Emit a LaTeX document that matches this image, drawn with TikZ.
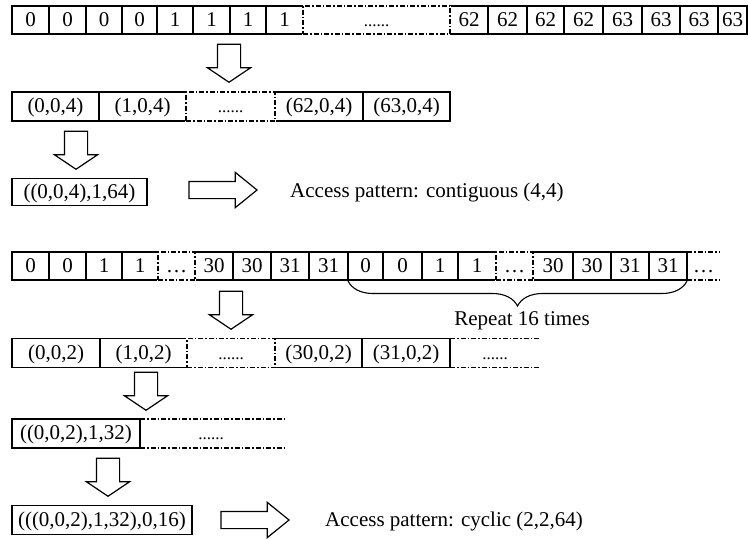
\documentclass[tikz,border=0pt]{standalone}
\usepackage{fontspec}
\setmainfont{Liberation Serif}
\usetikzlibrary{shapes.arrows}
\usetikzlibrary{decorations.pathreplacing}
\pgfdeclarelayer{edgelayer}
\pgfdeclarelayer{nodelayer}
\pgfsetlayers{edgelayer,nodelayer,main}
\tikzstyle{cell}=[rectangle,draw=black,line width=1.1pt,inner sep=0pt,minimum width=37pt,minimum height=28pt,text height=15pt,text depth=3pt,font=\fontsize{21}{25}\selectfont]
\tikzstyle{tuple}=[cell,minimum width=87pt,minimum height=29pt]
\tikzstyle{gapcell}=[cell,fill=white,line width=1.3pt,dash pattern=on 5pt off 2pt on 1.5pt off 2pt,preaction={draw=white,solid,line width=2.8pt}]
\tikzstyle{dots}=[inner sep=0pt,text height=15pt,text depth=3pt,font=\fontsize{17}{20}\selectfont]
\tikzstyle{note}=[inner sep=0pt,anchor=west,text height=15pt,text depth=3pt,font=\fontsize{21}{25}\selectfont]
\tikzstyle{darrow}=[single arrow,draw=black,line width=1.2pt,rotate=-90,anchor=tip,inner xsep=0pt,inner ysep=11pt,single arrow head extend=10pt,single arrow tip angle=112,minimum height=38pt]
\tikzstyle{rarrow}=[single arrow,draw=black,line width=1.2pt,anchor=tip,inner xsep=0pt,inner ysep=8pt,single arrow head extend=9pt,single arrow tip angle=78,minimum height=68pt]
\tikzstyle{openedge}=[-,draw=black,line width=1.3pt,dash pattern=on 5pt off 2pt on 1.5pt off 2pt]
\tikzstyle{repeatbrace}=[-,draw=black,line width=1.1pt,decorate,decoration={brace,mirror,amplitude=25pt}]

\begin{document}
\begin{tikzpicture}[x=1pt,y=-1pt]
	\useasboundingbox (0,0) rectangle (748,539);
	\begin{pgfonlayer}{nodelayer}
		\node [style=cell] (0) at (30.5, 20) {0};
		\node [style=cell] (1) at (67.5, 20) {0};
		\node [style=cell, minimum width=36] (2) at (104, 20) {0};
		\node [style=cell, minimum width=35] (3) at (139.5, 20) {0};
		\node [style=cell, minimum width=36] (4) at (175, 20) {1};
		\node [style=cell] (5) at (211.5, 20) {1};
		\node [style=cell, minimum width=36] (6) at (248, 20) {1};
		\node [style=cell] (7) at (284.5, 20) {1};
		\node [style=cell, minimum width=38] (9) at (469, 20) {62};
		\node [style=cell, minimum width=39] (10) at (507.5, 20) {62};
		\node [style=cell] (11) at (545.5, 20) {62};
		\node [style=cell, minimum width=39] (12) at (583.5, 20) {62};
		\node [style=cell, minimum width=39] (13) at (622.5, 20) {63};
		\node [style=cell, minimum width=38] (14) at (661, 20) {63};
		\node [style=cell, minimum width=38] (15) at (699, 20) {63};
		\node [style=cell, minimum width=29] (16) at (732.5, 20) {63};
		\node [style=darrow] (17) at (229, 83) {};
		\node [style=tuple] (18) at (55.5, 106.5) {(0,0,4)};
		\node [style=tuple] (19) at (142.5, 106.5) {(1,0,4)};
		\node [style=tuple, minimum width=88] (21) at (319, 106.5) {(62,0,4)};
		\node [style=tuple] (22) at (406.5, 106.5) {(63,0,4)};
		\node [style=darrow] (23) at (76, 170) {};
		\node [style=cell, minimum width=135, minimum height=27] (24) at (79.5, 192) {((0,0,4),1,64)};
		\node [style=rarrow] (25) at (258, 190) {};
		\node [style=note] (26) at (290, 191) {Access pattern: contiguous (4,4)};
		\node [style=cell] (27) at (30.5, 266) {0};
		\node [style=cell] (28) at (67.5, 266) {0};
		\node [style=cell, minimum width=36] (29) at (104, 266) {1};
		\node [style=cell, minimum width=36] (30) at (140, 266) {1};
		\node [style=cell, minimum width=38] (32) at (214, 266) {30};
		\node [style=cell, minimum width=38] (33) at (252, 266) {30};
		\node [style=cell, minimum width=38] (34) at (290, 266) {31};
		\node [style=cell, minimum width=39] (35) at (328.5, 266) {31};
		\node [style=cell, minimum width=35] (36) at (365.5, 266) {0};
		\node [style=cell, minimum width=39] (37) at (402.5, 266) {0};
		\node [style=cell, minimum width=36] (38) at (440, 266) {1};
		\node [style=cell, minimum width=38] (39) at (477, 266) {1};
		\node [style=cell, minimum width=40] (41) at (553, 266) {30};
		\node [style=cell, minimum width=38] (42) at (592, 266) {30};
		\node [style=cell, minimum width=38] (43) at (630, 266) {31};
		\node [style=cell, minimum width=38] (44) at (668, 266) {31};
		\node [style=dots, font=\fontsize{21}{25}\selectfont] (45) at (703.5, 266) {…};
		\node [] (46) at (687, 252) {};
		\node [] (47) at (720, 252) {};
		\node [] (48) at (687, 280) {};
		\node [] (49) at (720, 280) {};
		\node [] (50) at (348, 281) {};
		\node [] (51) at (687, 281) {};
		\node [style=note, anchor=center] (52) at (522, 319) {Repeat 16 times};
		\node [style=darrow] (53) at (231, 330) {};
		\node [style=tuple, minimum width=88, minimum height=29] (54) at (56, 353) {(0,0,2)};
		\node [style=tuple, minimum height=29] (55) at (143.5, 353) {(1,0,2)};
		\node [style=tuple, minimum height=29] (57) at (318.5, 353) {(30,0,2)};
		\node [style=tuple, minimum width=88, minimum height=29] (58) at (406, 353) {(31,0,2)};
		\node [style=dots] (59) at (495, 353) {......};
		\node [] (60) at (450, 338.5) {};
		\node [] (61) at (540, 338.5) {};
		\node [] (62) at (450, 367.5) {};
		\node [] (63) at (540, 367.5) {};
		\node [style=darrow] (64) at (146, 411) {};
		\node [style=cell, minimum width=128, minimum height=29] (65) at (76, 433.5) {((0,0,2),1,32)};
		\node [style=dots] (66) at (211, 433.5) {......};
		\node [] (67) at (140, 419) {};
		\node [] (68) at (285, 419) {};
		\node [] (69) at (140, 448) {};
		\node [] (70) at (285, 448) {};
		\node [style=darrow] (71) at (108, 497) {};
		\node [style=cell, minimum width=180, minimum height=29] (72) at (102, 520) {(((0,0,2),1,32),0,16)};
		\node [style=rarrow] (73) at (290, 520) {};
		\node [style=note] (74) at (325, 520) {Access pattern: cyclic (2,2,64)};
	\end{pgfonlayer}
	\begin{pgfonlayer}{edgelayer}
		\draw [style=openedge] (46.center) to (47.center);
		\draw [style=openedge] (48.center) to (49.center);
		\draw [style=repeatbrace] (50.center) to (51.center);
		\draw [style=openedge] (60.center) to (61.center);
		\draw [style=openedge] (62.center) to (63.center);
		\draw [style=openedge] (67.center) to (68.center);
		\draw [style=openedge] (69.center) to (70.center);
	\end{pgfonlayer}
	% gaps go on top, so their sides stay dashed
	\node [style=gapcell, minimum width=147] (8) at (376.5, 20) {\fontsize{17}{20}\selectfont ......};
	\node [style=gapcell, minimum width=89, minimum height=29] (20) at (230.5, 106.5) {\fontsize{17}{20}\selectfont ......};
	\node [style=gapcell] (31) at (176.5, 266) {…};
	\node [style=gapcell] (40) at (514.5, 266) {…};
	\node [style=gapcell, minimum width=88, minimum height=29] (56) at (231, 353) {\fontsize{17}{20}\selectfont ......};
\end{tikzpicture}
\end{document}
